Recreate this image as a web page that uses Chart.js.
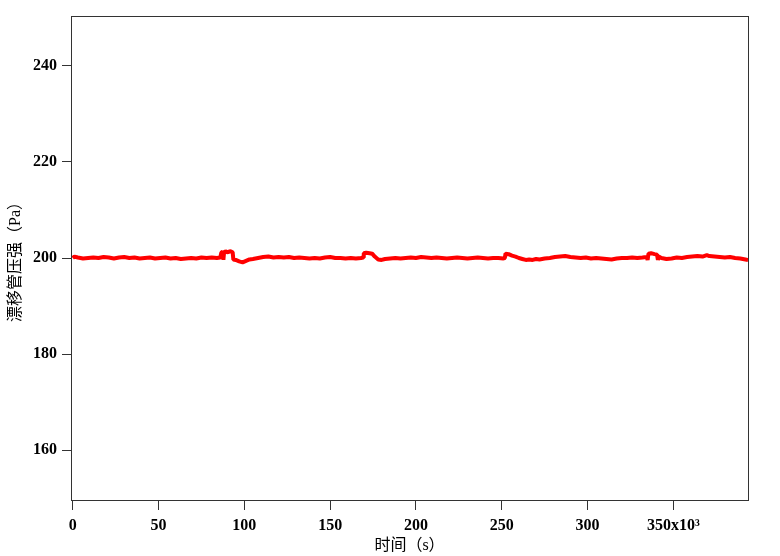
<!DOCTYPE html>
<html lang="zh">
<head>
<meta charset="UTF-8">
<title>漂移管压强</title>
<script src="https://cdn.jsdelivr.net/npm/chart.js"></script>
<style>
    html, body { margin: 0; padding: 0; background: #fff; }
    #wrap { width: 780px; height: 556px; position: relative; }
</style>
</head>
<body>
<div id="wrap"><canvas id="chart"></canvas></div>
<script>
// time in units of 10^3 s, pressure in Pa
const times = [
    0, 1, 3, 6, 9, 12, 15, 18, 21, 24, 27, 30, 33, 36, 39, 42, 45, 48, 51, 54,
    57, 60, 63, 66, 69, 72, 75, 78, 81, 84, 86,
    86.6, 87.4, 87.8, 88.2, 89, 90, 91, 92, 93.2, 93.6, 95, 97, 99, 101, 103, 105,
    108, 111, 114, 117, 120, 123, 126, 129, 132, 135, 138, 141, 144, 147, 150,
    153, 156, 159, 162, 165, 168, 169.2, 169.6, 171, 173, 174.5, 176, 178, 180,
    182, 185, 188, 191, 194, 197, 200, 203, 206, 209, 212, 215, 218, 221, 224,
    227, 230, 233, 236, 239, 242, 245, 248, 251, 251.8, 252.2, 254, 256, 258,
    260, 262, 264, 266, 268, 270, 272, 275, 278, 281, 284, 287, 290, 293, 296,
    299, 302, 305, 308, 311, 314, 317, 320, 323, 326, 329, 332, 334.5, 335,
    335.5, 337, 339, 340.5, 341, 341.5, 343, 346, 349, 352, 355, 358, 361, 364,
    367, 369.5, 371, 374, 377, 380, 383, 386, 389, 392, 393.5
];
const pressure = [
    200.0, 200.3, 200.1, 199.9, 200.0, 200.1, 200.0, 200.2, 200.1, 199.9, 200.1, 200.2, 200.0, 200.1, 199.9, 200.0, 200.1, 199.9, 200.0, 200.1,
    199.9, 200.0, 199.8, 199.9, 200.0, 199.9, 200.1, 200.0, 200.1, 200.0, 200.1,
    201.1, 201.3, 199.6, 201.2, 201.4, 201.2, 201.3, 201.4, 201.2, 199.7, 199.6, 199.3, 199.1, 199.4, 199.7, 199.8,
    200.0, 200.2, 200.3, 200.1, 200.2, 200.1, 200.2, 200.0, 200.1, 200.0, 199.9, 200.0, 199.9, 200.1, 200.2,
    200.0, 200.0, 199.9, 200.0, 199.9, 200.0, 200.1, 201.0, 201.1, 201.0, 200.9, 200.3, 199.7, 199.6,
    199.8, 199.9, 200.0, 199.9, 200.0, 200.1, 200.0, 200.2, 200.1, 200.0, 200.1, 200.0, 199.9, 200.0, 200.1,
    200.0, 199.9, 200.0, 200.1, 200.0, 199.9, 200.0, 200.0, 199.9, 200.0, 200.9, 200.8, 200.5, 200.3,
    200.0, 199.8, 199.6, 199.7, 199.6, 199.8, 199.7, 199.9, 200.0, 200.2, 200.3, 200.4, 200.2, 200.1, 200.0,
    200.1, 199.9, 200.0, 199.9, 199.8, 199.7, 199.9, 200.0, 200.0, 200.1, 200.0, 200.1, 200.2, 199.6,
    200.9, 201.0, 200.8, 200.7, 199.6, 200.3, 200.0, 199.8, 199.9, 200.1, 200.0, 200.2, 200.3, 200.4,
    200.3, 200.6, 200.4, 200.3, 200.2, 200.1, 200.2, 200.0, 199.9, 199.7, 199.6
];
const xTicks = [0, 50, 100, 150, 200, 250, 300, 350];
const yTicks = [160, 180, 200, 220, 240];

const tickFont = { family: '"Liberation Serif", "Times New Roman", serif', size: 16, weight: 'bold' };
const titleFont = { family: '"Liberation Serif", "Noto Sans CJK SC", serif', size: 16 };

// closed box around the plot area
const frame = {
    id: 'frame',
    afterDraw(chart) {
        const a = chart.chartArea;
        const ctx = chart.ctx;
        ctx.save();
        ctx.strokeStyle = '#333';
        ctx.lineWidth = 1;
        ctx.strokeRect(a.left + 0.5, a.top + 0.5, a.right - a.left, a.bottom - a.top);
        ctx.restore();
    }
};

new Chart(document.getElementById('chart'), {
    type: 'line',
    data: {
        datasets: [{
            data: times.map((t, i) => ({ x: t, y: pressure[i] })),
            borderColor: '#ff0000',
            borderWidth: 4,
            borderJoinStyle: 'bevel',
            pointRadius: 0,
            tension: 0,
            fill: false
        }]
    },
    options: {
        responsive: true,
        maintainAspectRatio: false,
        animation: false,
        layout: { padding: { left: 4, right: 32, top: 16, bottom: 0 } },
        plugins: { legend: { display: false }, tooltip: { enabled: false } },
        scales: {
            x: {
                type: 'linear',
                min: -1,
                max: 393.5,
                afterBuildTicks: s => { s.ticks = xTicks.map(v => ({ value: v })); },
                afterFit: s => { s.height = 56; },
                grid: { drawOnChartArea: false, drawTicks: true, tickLength: 10, color: '#333' },
                border: { display: true, color: '#333' },
                ticks: {
                    color: '#000',
                    font: tickFont,
                    padding: 6,
                    maxRotation: 0,
                    callback: v => v === 350 ? '350x10³' : String(v)
                },
                title: { display: true, text: '时间（s）', color: '#000', font: titleFont, padding: { top: 0, bottom: 1 } }
            },
            y: {
                min: 149.6,
                max: 250.4,
                afterBuildTicks: s => { s.ticks = yTicks.map(v => ({ value: v })); },
                afterFit: s => { s.width = 67; },
                grid: { drawOnChartArea: false, drawTicks: true, tickLength: 9, color: '#333' },
                border: { display: true, color: '#333' },
                ticks: { color: '#000', font: tickFont, padding: 5 },
                title: { display: true, text: '漂移管压强（Pa）', color: '#000', font: titleFont, padding: { top: 2, bottom: 0 } }
            }
        }
    },
    plugins: [frame]
});
</script>
</body>
</html>
